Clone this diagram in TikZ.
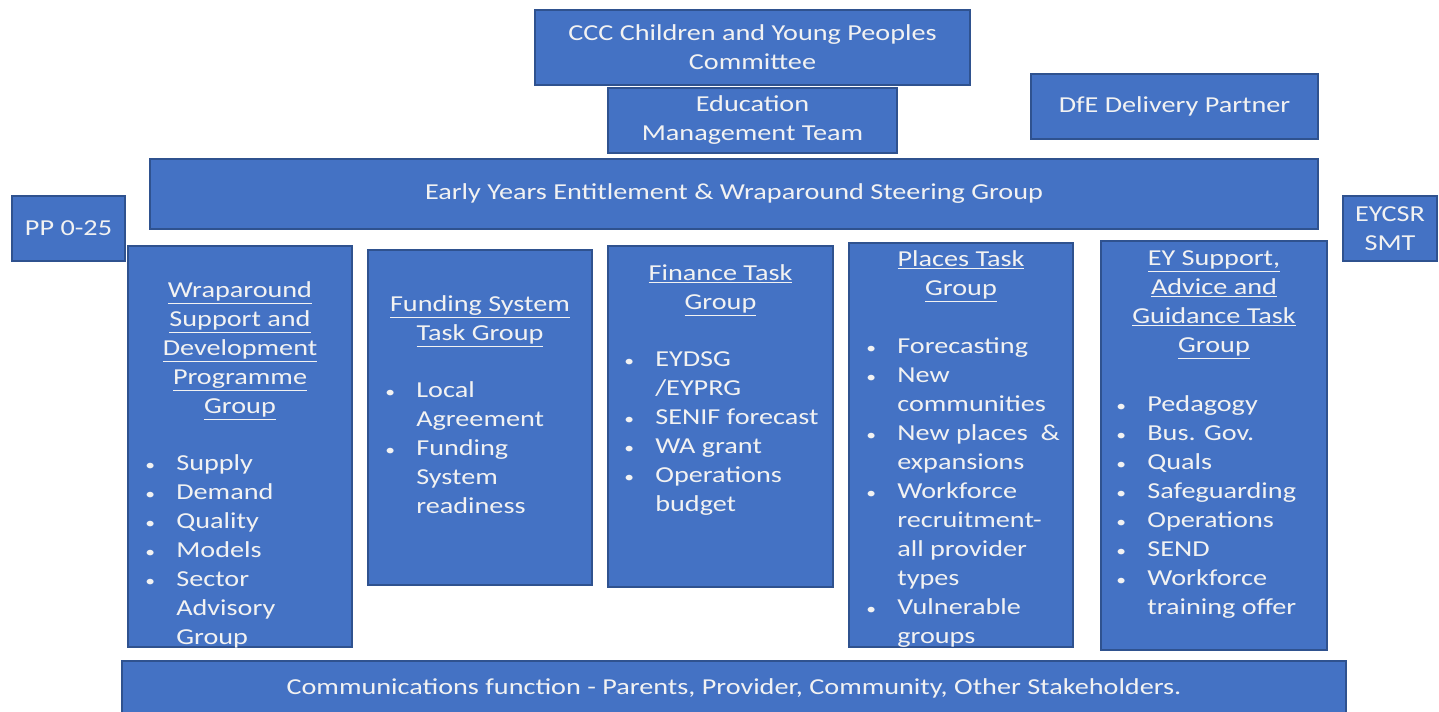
\documentclass[tikz,border=0pt]{standalone}
\usepackage{fontspec}
\setmainfont{Carlito}[FakeStretch=1.235]
\usepackage{tikz}
\usetikzlibrary{positioning}
\definecolor{eyBlue}{HTML}{4472C4}
\definecolor{eyEdge}{HTML}{2F528F}
\definecolor{eyText}{HTML}{F2F2F2}
\newcommand{\eyfont}{\fontsize{13}{16.5}\selectfont}
\newcommand{\bul}{\makebox[0.62cm][l]{\small\textbullet}}
\newcommand{\ind}{\hspace*{0.62cm}}
\tikzset{
  govbox/.style={rectangle,draw=eyEdge,fill=eyBlue,line width=0.9pt,
    inner sep=0pt,align=center,font=\eyfont,text=eyText},
  grptitle/.style={anchor=north,inner sep=0pt,align=center,font=\eyfont,text=eyText},
  grplist/.style={anchor=north west,inner sep=0pt,align=left,font=\eyfont,text=eyText}
}

\begin{document}
\begin{tikzpicture}[x=0.02cm,y=-0.02cm]
  \useasboundingbox (0,0) rectangle (1439,711);
  % governance boxes
  \node[govbox,minimum width=8.7cm,minimum height=1.5cm] (ccc) at (752.5,47.5)
    {CCC Children and Young Peoples\\Committee};
  \node[govbox,minimum width=5.78cm,minimum height=1.3cm] (emt) at (752.5,120.5)
    {Education\\Management Team};
  \node[govbox,minimum width=5.74cm,minimum height=1.3cm] (dfe) at (1174.5,106.5)
    {DfE Delivery Partner};
  \node[govbox,minimum width=23.36cm,minimum height=1.4cm] (steer) at (734,194)
    {Early Years Entitlement \& Wraparound Steering Group};
  \node[govbox,minimum width=2.26cm,minimum height=1.3cm] (pp) at (68.5,228.5)
    {PP 0-25};
  \node[govbox,minimum width=1.88cm,minimum height=1.3cm] (eycsr) at (1390,228.5)
    {EYCSR\\SMT};
  % task groups
  \node[govbox,minimum width=4.48cm,minimum height=8.02cm] (wrap) at (240,446.5) {};
  \node[govbox,minimum width=4.48cm,minimum height=6.7cm] (fund) at (480,417.5) {};
  \node[govbox,minimum width=4.5cm,minimum height=6.82cm] (fin) at (720.5,416.5) {};
  \node[govbox,minimum width=4.48cm,minimum height=8.08cm] (place) at (961,445) {};
  \node[govbox,minimum width=4.52cm,minimum height=8.18cm] (eysup) at (1214,445.5) {};
  \node[govbox,minimum width=24.48cm,minimum height=1.1cm] (comm) at (734,688.5)
    {Communications function - Parents, Provider, Community, Other Stakeholders.};
  % group titles
  \node[grptitle] (wrapT) at (240,281)
    {\underline{Wraparound}\\\underline{Support and}\\\underline{Development}\\\underline{Programme}\\\underline{Group}};
  \node[grptitle] (fundT) at (480,295)
    {\underline{Funding System}\\\underline{Task Group}};
  \node[grptitle] (finT) at (720.5,264)
    {\underline{Finance Task}\\\underline{Group}};
  \node[grptitle] (placeT) at (961,250)
    {\underline{Places Task}\\\underline{Group}};
  \node[grptitle] (eysupT) at (1214,250)
    {\underline{EY Support,}\\\underline{Advice and}\\\underline{Guidance Task}\\\underline{Group}};
  % group lists
  \node[grplist] (wrapL) at (145,454)
    {\bul Supply\\\bul Demand\\\bul Quality\\\bul Models\\\bul Sector\\\ind Advisory\\\ind Group};
  \node[grplist] (fundL) at (385,381)
    {\bul Local\\\ind Agreement\\\bul Funding\\\ind System\\\ind readiness};
  \node[grplist] (finL) at (624,351)
    {\bul EYDSG\\\ind /EYPRG\\\bul SENIF forecast\\\bul WA grant\\\bul Operations\\\ind budget};
  \node[grplist] (placeL) at (866,337)
    {\bul Forecasting\\\bul New\\\ind communities\\\bul New places \ \&\\\ind expansions\\\bul Workforce\\\ind recruitment-\\\ind all provider\\\ind types\\\bul Vulnerable\\\ind groups};
  \node[grplist] (eysupL) at (1116,395)
    {\bul Pedagogy\\\bul Bus. Gov.\\\bul Quals\\\bul Safeguarding\\\bul Operations\\\bul SEND\\\bul Workforce\\\ind training offer};
\end{tikzpicture}
\end{document}
